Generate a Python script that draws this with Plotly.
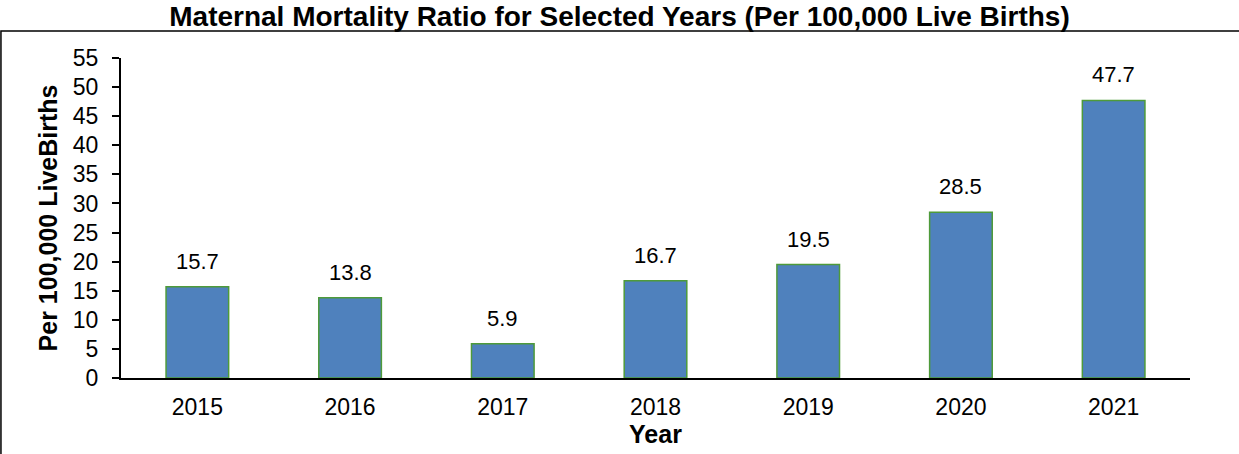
import plotly.graph_objects as go

years = ["2015", "2016", "2017", "2018", "2019", "2020", "2021"]
ratios = [15.7, 13.8, 5.9, 16.7, 19.5, 28.5, 47.7]
y_ticks = list(range(0, 60, 5))

fig = go.Figure()
fig.add_trace(go.Bar(
    x=years, y=ratios,
    marker=dict(color="#4F81BD", line=dict(color="#4E9A3A", width=1.5)),
    width=0.41,
    hoverinfo="x+y",
))

# data labels (category index positions on the category axis)
for i, v in enumerate(ratios):
    fig.add_annotation(x=i, y=v, text=f"{v:.1f}", showarrow=False,
                       yanchor="bottom", yshift=11,
                       font=dict(family="Liberation Sans, Arial", size=22, color="#000"))

fig.add_shape(type="rect", xref="paper", yref="paper",
              x0=-0.1123, x1=1.2, y0=-0.5, y1=1.084,
              line=dict(color="#000", width=1.5), fillcolor="rgba(0,0,0,0)")

fig.update_layout(
    width=1239, height=454,
    margin=dict(l=121, r=49, t=58, b=76),
    plot_bgcolor="white", paper_bgcolor="white",
    font=dict(family="Liberation Sans, Arial", size=23, color="#000"),
    title=dict(text="<b>Maternal Mortality Ratio for Selected Years (Per 100,000 Live Births)</b>",
               x=0.5, xanchor="center", y=1 - 16.5 / 454, yanchor="middle",
               font=dict(size=28, color="#000")),
    showlegend=False,
    xaxis=dict(type="category", range=[-0.5, len(years) - 0.5], showline=True,
               linecolor="#000", linewidth=2, ticks="", ticklabelstandoff=7,
               tickfont=dict(size=23), showgrid=False,
               title=dict(text="<b>Year</b>", font=dict(size=25), standoff=0)),
    yaxis=dict(range=[0, 55], tickvals=y_ticks, showline=True, linecolor="#000",
               linewidth=2, ticks="outside", ticklen=7, tickwidth=1.5, tickcolor="#000",
               ticklabelstandoff=9,
               showgrid=False, zeroline=False, tickfont=dict(size=23),
               title=dict(text="<b>Per 100,000 LiveBirths</b>", font=dict(size=25), standoff=8)),
)

fig.write_html("out.html", config={"displayModeBar": False},
               post_script="document.body.style.margin='0';document.body.style.overflow='hidden';")
